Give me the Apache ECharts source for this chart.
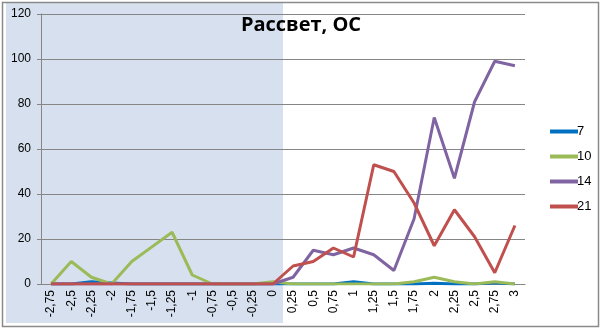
<!DOCTYPE html>
<html><head><meta charset="utf-8">
<script src="https://cdn.jsdelivr.net/npm/echarts@6/dist/echarts.min.js"></script>
<style>html,body{margin:0;padding:0;background:#fff}#c{width:602px;height:330px}</style>
</head><body><div id="c"></div>
<script>
const categories = ['-2,75','-2,5','-2,25','-2','-1,75','-1,5','-1,25','-1','-0,75','-0,5','-0,25','0','0,25','0,5','0,75','1','1,25','1,5','1,75','2','2,25','2,5','2,75','3'];
const s7  = [0,0,1,0.5,0,0,0,0,0,0,0,0,0,0,0,1,0,0,0,0.3,0,0,0.5,0];
const s10 = [0,10,3,0,10,16.5,23,4,0,0,0,1,0,0,0,0,0,0,1,3,1,0,1,0];
const s14 = [0,0,0,0,0,0,0,0,0,0,0,0,3,15,13,16,13,6,29,74,47,81,99,97];
const s21 = [0,0,0,0,0,0,0,0,0,0,0,0,8,10,16,12,53,50,36,17,33,21,5,26];
const yTicks = [0,20,40,60,80,100,120];
const shadeTo = '0';

const chart = echarts.init(document.getElementById('c'));
const font = 'Liberation Sans';
function line(name, data, color){
  return {name, type:'line', data, symbol:'none', lineStyle:{width:3,color}, itemStyle:{color}, z:3};
}
chart.setOption({
  animation:false,
  title:{text:'Рассвет, ОС', left:'center', top:10, textStyle:{fontFamily:'Open Sans',fontWeight:'bold',fontSize:20,color:'#000'}},
  legend:{orient:'vertical', left:545, top:120, itemWidth:28, itemHeight:4, itemGap:12, icon:'rect',
    textStyle:{fontFamily:font,fontSize:13,color:'#000', padding:[0,0,0,-6]}, data:['7','10','14','21']},
  grid:{left:41, right:77, top:14, bottom:46},
  xAxis:{type:'category', data:categories, boundaryGap:true,
    axisLine:{lineStyle:{color:'#868686'}}, axisTick:{length:5,lineStyle:{color:'#868686'}},
    axisLabel:{rotate:90, interval:0, margin:6, fontFamily:font, fontSize:12, color:'#000'}},
  yAxis:{type:'value', min:yTicks[0], max:yTicks[yTicks.length-1], interval:20,
    axisLine:{show:true,lineStyle:{color:'#868686'}}, axisTick:{show:true,length:4,lineStyle:{color:'#868686'}},
    splitLine:{lineStyle:{color:'#868686'}},
    axisLabel:{margin:10, fontFamily:font, fontSize:12, color:'#000'}},
  series:[line('7',s7,'#0070C0'), line('10',s10,'#9BBB59'), line('14',s14,'#8064A2'), line('21',s21,'#C0504D')]
});
const idx = categories.indexOf(shadeTo);
const xr = (chart.convertToPixel({xAxisIndex:0}, categories[idx]) + chart.convertToPixel({xAxisIndex:0}, categories[idx+1]))/2;
chart.setOption({graphic:[
  {type:'rect', z:-10, silent:true, shape:{x:6,y:3,width:xr-6,height:320}, style:{fill:'#D6E0EE'}},
  {type:'rect', z:-9, silent:true, shape:{x:2.5,y:2.5,width:596,height:324}, style:{fill:'none',stroke:'#8A8A8A',lineWidth:1.5}}
]});
</script></body></html>
